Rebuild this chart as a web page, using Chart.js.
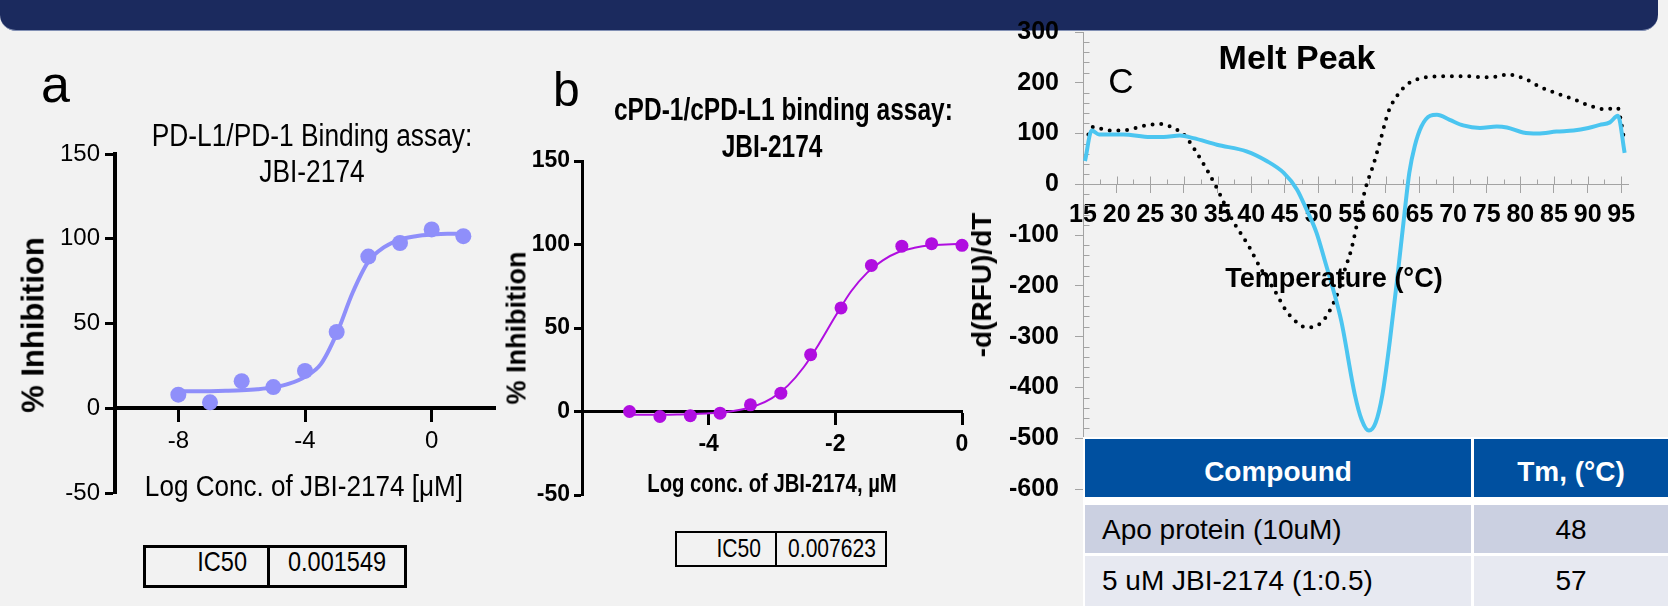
<!DOCTYPE html>
<html>
<head>
<meta charset="utf-8">
<script src="https://cdn.jsdelivr.net/npm/chart.js@4.4.1/dist/chart.umd.min.js"></script>
<style>
  body { margin:0; width:1668px; height:606px; background:#f2f2f2; position:relative; overflow:hidden;
         font-family:'Liberation Sans', Arial, sans-serif; color:#000; }
  .t { position:absolute; white-space:nowrap; line-height:1; }
  .c { text-align:center; }
  .bold { font-weight:bold; }
  .rot { transform:translate(-50%,-50%) rotate(-90deg); }
  canvas { position:absolute; }
  .cell { position:absolute; }
</style>
</head>
<body>

<div style="position:absolute;left:0;top:-40px;width:1658px;height:70px;background:#1b2a5e;border-radius:0 0 16px 16px;border-bottom:1px solid #8290b4;"></div>

<canvas id="chartA" width="520" height="420" style="left:0;top:100px;"></canvas>
<canvas id="chartB" width="500" height="420" style="left:490px;top:100px;"></canvas>
<canvas id="chartC" width="708" height="520" style="left:960px;top:0;"></canvas>

<!-- panel a text -->
<div class="t" style="left:41px;top:58px;font-size:52px;">a</div>
<div class="t c" style="left:112px;width:400px;top:118px;font-size:31px;line-height:36px;transform:scaleX(0.85);">PD-L1/PD-1 Binding assay:<br>JBI-2174</div>
<div class="t bold rot" style="left:33px;top:325px;font-size:31px;">% Inhibition</div>
<div class="t c" style="left:104px;width:400px;top:472px;font-size:29px;transform:scaleX(0.9);">Log Conc. of JBI-2174 [μM]</div>
<div style="position:absolute;left:143px;top:545px;width:264px;height:43px;border:3px solid #000;box-sizing:border-box;"></div>
<div style="position:absolute;left:267px;top:545px;width:3px;height:43px;background:#000;"></div>
<div class="t" style="left:147px;width:100px;text-align:right;top:548px;font-size:28px;transform:scaleX(0.84);transform-origin:right center;">IC50</div>
<div class="t c" style="left:237px;width:200px;top:548px;font-size:28px;transform:scaleX(0.84);">0.001549</div>

<!-- panel b text -->
<div class="t" style="left:553px;top:66px;font-size:48px;">b</div>
<div class="t c bold" style="left:572px;width:400px;top:91px;font-size:31px;line-height:37px;transform:scaleX(0.79);">cPD-1/cPD-L1 binding assay:<br>JBI-2174</div>
<div class="t bold rot" style="left:517px;top:328px;font-size:27px;">% Inhibition</div>
<div class="t c bold" style="left:572px;width:400px;top:470px;font-size:26px;transform:scaleX(0.78);">Log conc. of JBI-2174, µM</div>
<div style="position:absolute;left:675px;top:531px;width:212px;height:36px;border:2px solid #000;box-sizing:border-box;"></div>
<div style="position:absolute;left:775px;top:531px;width:2px;height:36px;background:#000;"></div>
<div class="t" style="left:661px;width:100px;text-align:right;top:535px;font-size:26px;transform:scaleX(0.81);transform-origin:right center;">IC50</div>
<div class="t c" style="left:732px;width:200px;top:535px;font-size:26px;transform:scaleX(0.81);">0.007623</div>

<!-- panel c text -->
<div class="t c" style="left:1021px;width:200px;top:63px;font-size:35px;">C</div>
<div class="t c bold" style="left:1147px;width:300px;top:40px;font-size:34px;">Melt Peak</div>
<div class="t c bold" style="left:1184px;width:300px;top:265px;font-size:27px;">Temperature (°C)</div>
<div class="t bold rot" style="left:982px;top:285px;font-size:28px;">-d(RFU)/dT</div>

<!-- melt table -->
<div class="cell" style="left:1083px;top:437px;width:585px;height:169px;background:#fff;"></div>
<div class="cell" style="left:1085px;top:439px;width:386px;height:58px;background:#0050a0;"></div>
<div class="cell" style="left:1474px;top:439px;width:194px;height:58px;background:#0050a0;"></div>
<div class="cell" style="left:1085px;top:505px;width:386px;height:48px;background:#cbd0e1;"></div>
<div class="cell" style="left:1474px;top:505px;width:194px;height:48px;background:#cbd0e1;"></div>
<div class="cell" style="left:1085px;top:556px;width:386px;height:50px;background:#e7e9f1;"></div>
<div class="cell" style="left:1474px;top:556px;width:194px;height:50px;background:#e7e9f1;"></div>
<div class="t c bold" style="left:1128px;width:300px;top:458px;font-size:28px;color:#fff;">Compound</div>
<div class="t c bold" style="left:1471px;width:200px;top:458px;font-size:28px;color:#fff;">Tm, (°C)</div>
<div class="t" style="left:1102px;top:516px;font-size:28px;">Apo protein (10uM)</div>
<div class="t c" style="left:1471px;width:200px;top:516px;font-size:28px;">48</div>
<div class="t" style="left:1102px;top:567px;font-size:28px;">5 uM JBI-2174 (1:0.5)</div>
<div class="t c" style="left:1471px;width:200px;top:567px;font-size:28px;">57</div>

<script>
// panel a: PD-L1/PD-1 binding
var aLogConc = [-8, -7, -6, -5, -4, -3, -2, -1, 0, 1];
var aInhibition = [8, 3.5, 16, 12.5, 22, 45, 89.5, 97.5, 105.5, 101.5];
var aFitX = [-8, -7.5, -7, -6.5, -6, -5.5, -5, -4.5, -4, -3.5, -3, -2.5, -2, -1.5, -1, -0.5, 0, 0.5, 1];
var aFitY = [10, 10, 10.1, 10.3, 10.6, 11.2, 12.3, 14.5, 18.5, 26, 44, 68, 86.5, 95, 99.5, 101.5, 102.5, 103, 103];
var aXTicks = [-8, -4, 0];
var aYTicks = [-50, 0, 50, 100, 150];

// panel b: cPD-1/cPD-L1 binding
var bLogConc = [-5.25, -4.77, -4.29, -3.82, -3.34, -2.86, -2.39, -1.91, -1.43, -0.95, -0.48, 0];
var bInhibition = [0, -3, -2.5, -1, 4, 11, 34, 62, 87.5, 99, 100.5, 99.5];
var bFitX = [-5.25, -5, -4.75, -4.5, -4.25, -4, -3.75, -3.5, -3.25, -3, -2.75, -2.5, -2.25, -2, -1.75, -1.5, -1.25, -1, -0.75, -0.5, -0.25, 0];
var bFitY = [-2, -1.9, -1.9, -1.8, -1.5, -1.1, -0.4, 1, 3.5, 8, 15.5, 26.5, 41, 57, 72, 83, 90.5, 95.5, 98, 99.5, 100, 100.5];
var bXTicks = [-4, -2, 0];
var bYTicks = [-50, 0, 50, 100, 150];

// panel c: melt peak
var apoTemp = [15.8, 16.5, 19, 21.5, 24, 26.4, 28.9, 30.2, 31.9, 33.4, 35.1, 37.1, 39.6, 41.3, 43.3, 45.3, 47, 48.2, 49.3, 50.6, 51.9, 52.9, 53.9, 54.9, 55.9, 57.1, 58.1, 59.1, 60.4, 61.6, 63.1, 64.3, 65.6, 66.8, 69.3, 72, 74.5, 77, 78.2, 79.4, 80.7, 82.9, 85.4, 87.9, 90.1, 92.6, 94.5, 95, 95.5];
var apoMelt = [98, 113, 106, 107, 115, 119, 108, 95, 62, 29, -13, -68, -121, -163, -205, -251, -274, -282, -280, -270, -243, -212, -169, -127, -68, -3, 36, 82, 143, 173, 196, 205, 210, 212, 213, 213, 211, 213, 217, 213, 208, 192, 179, 168, 156, 148, 150, 121, 82];
var jbiTemp = [15.3, 16.3, 17.4, 21, 25, 27, 29.4, 31.4, 34.9, 39.3, 42.3, 44.8, 46.8, 48.2, 49.7, 51, 52.2, 53.4, 55.4, 56.4, 57.5, 58.5, 59.5, 60.6, 61.7, 62.8, 63.5, 64.3, 65.3, 66.6, 67.6, 69.5, 71.5, 74, 76.5, 78, 80.4, 82.6, 85.4, 87.9, 90.1, 91.8, 93.3, 94.5, 95.5];
var jbiMelt = [46, 106, 98, 98, 93, 93, 96, 91, 78, 65, 46, 23, -10, -49, -95, -153, -208, -270, -414, -463, -485, -469, -414, -309, -186, -55, 23, 75, 114, 135, 137, 127, 116, 111, 114, 112, 102, 100, 104, 106, 111, 117, 122, 135, 62];
var cXTicks = [15, 20, 25, 30, 35, 40, 45, 50, 55, 60, 65, 70, 75, 80, 85, 90, 95];
var cYTicks = [-600, -500, -400, -300, -200, -100, 0, 100, 200, 300];

var SANS = "'Liberation Sans', Arial, sans-serif";
var GREY = '#a3a3a3';

function pts(xs, ys) {
    return xs.map(function (x, i) { return {x: x, y: ys[i]}; });
}
function setTicks(list) {
    return function (scale) { scale.ticks = list.map(function (v) { return {value: v}; }); };
}
function fixWidth(w) {
    return function (scale) { scale.width = w; };
}

function doseChart(id, o) {
    return new Chart(document.getElementById(id), {
        type: 'scatter',
        data: {
            datasets: [{
                data: pts(o.x, o.y),
                pointRadius: o.r,
                pointHoverRadius: o.r,
                backgroundColor: o.color,
                borderWidth: 0,
                clip: false
            }, {
                data: pts(o.fitX, o.fitY),
                showLine: true,
                pointRadius: 0,
                borderColor: o.color,
                borderWidth: o.lw,
                cubicInterpolationMode: 'monotone',
                clip: false
            }]
        },
        options: {
            responsive: false,
            animation: false,
            layout: {padding: o.pad},
            plugins: {legend: {display: false}, tooltip: {enabled: false}},
            scales: {
                x: {
                    type: 'linear', position: {y: 0}, min: o.xmin, max: o.xmax,
                    afterBuildTicks: setTicks(o.xTicks),
                    grid: {drawOnChartArea: false, tickLength: 12, tickWidth: o.tw, tickColor: '#000'},
                    border: {color: '#000', width: o.bw},
                    ticks: {color: '#000', padding: 7, maxRotation: 0, autoSkip: false,
                            font: {family: SANS, size: o.fs, weight: o.weight}}
                },
                y: {
                    type: 'linear', min: -50, max: 150,
                    afterBuildTicks: setTicks(o.yTicks),
                    afterFit: fixWidth(o.yw),
                    grid: {drawOnChartArea: false, tickLength: o.ytl, tickWidth: o.tw, tickColor: '#000'},
                    border: {color: '#000', width: o.bw},
                    ticks: {color: '#000', padding: o.ypad,
                            font: {family: SANS, size: o.fs, weight: o.weight}}
                }
            }
        }
    });
}

doseChart('chartA', {
    x: aLogConc, y: aInhibition, fitX: aFitX, fitY: aFitY,
    color: '#8f8ffa', r: 8, lw: 4, tw: 3, bw: 4,
    xmin: -10, xmax: 2, xTicks: aXTicks, yTicks: aYTicks,
    pad: {left: 0, top: 54, right: 25, bottom: 27},
    yw: 115, ytl: 10, ypad: 5, fs: 24, weight: 'normal'
});

doseChart('chartB', {
    x: bLogConc, y: bInhibition, fitX: bFitX, fitY: bFitY,
    color: '#b00ee0', r: 6.5, lw: 2, tw: 3, bw: 3,
    xmin: -6, xmax: 0, xTicks: bXTicks, yTicks: bYTicks,
    pad: {left: 0, top: 61, right: 28, bottom: 25},
    yw: 92, ytl: 8, ypad: 4, fs: 23, weight: 'bold'
});

// small ticks for the melt plot (minor y ticks inside, x ticks above the zero line)
var meltTicks = {
    id: 'meltTicks',
    beforeDatasetsDraw: function (chart) {
        var ctx = chart.ctx, x = chart.scales.x, y = chart.scales.y;
        var y0 = Math.round(y.getPixelForValue(0)) + 0.5;
        var xa = Math.round(x.left) + 0.5;
        ctx.save();
        ctx.strokeStyle = GREY;
        ctx.lineWidth = 1;
        ctx.beginPath();
        for (var v = -580; v < 300; v += 20) {
            if (v % 100 === 0) continue;
            var p = Math.round(y.getPixelForValue(v)) + 0.5;
            ctx.moveTo(xa, p);
            ctx.lineTo(xa + 6, p);
        }
        for (var t = 17.5; t < 96; t += 2.5) {
            var px = Math.round(x.getPixelForValue(t)) + 0.5;
            ctx.moveTo(px, y0);
            ctx.lineTo(px, y0 - (t % 5 === 0 ? 8 : 5));
        }
        ctx.stroke();
        ctx.restore();
    }
};

new Chart(document.getElementById('chartC'), {
    type: 'scatter',
    data: {
        datasets: [{
            label: '5 uM JBI-2174 (1:0.5)',
            data: pts(jbiTemp, jbiMelt),
            showLine: true,
            pointRadius: 0,
            borderColor: '#4bc5f0',
            borderWidth: 4,
            cubicInterpolationMode: 'monotone',
            clip: false
        }, {
            label: 'Apo protein (10uM)',
            data: pts(apoTemp, apoMelt),
            showLine: true,
            pointRadius: 0,
            borderColor: '#000',
            borderWidth: 4,
            borderDash: [0, 8.7],
            borderCapStyle: 'round',
            cubicInterpolationMode: 'monotone',
            clip: false
        }]
    },
    options: {
        responsive: false,
        animation: false,
        layout: {padding: {left: 0, top: 32, right: 40, bottom: 28}},
        plugins: {legend: {display: false}, tooltip: {enabled: false}},
        scales: {
            x: {
                type: 'linear', position: {y: 0}, min: 15, max: 96,
                afterBuildTicks: setTicks(cXTicks),
                grid: {drawOnChartArea: false, tickLength: 8, tickWidth: 1, tickColor: GREY},
                border: {color: GREY, width: 1},
                ticks: {color: '#000', padding: 8, maxRotation: 0, autoSkip: false,
                        font: {family: SANS, size: 25, weight: 'bold'}}
            },
            y: {
                type: 'linear', min: -600, max: 300,
                afterBuildTicks: setTicks(cYTicks),
                afterFit: fixWidth(123),
                grid: {drawOnChartArea: false, tickLength: 8, tickWidth: 1, tickColor: GREY},
                border: {color: GREY, width: 1},
                ticks: {color: '#000', padding: 16,
                        font: {family: SANS, size: 25, weight: 'bold'}}
            }
        }
    },
    plugins: [meltTicks]
});
</script>
</body>
</html>
